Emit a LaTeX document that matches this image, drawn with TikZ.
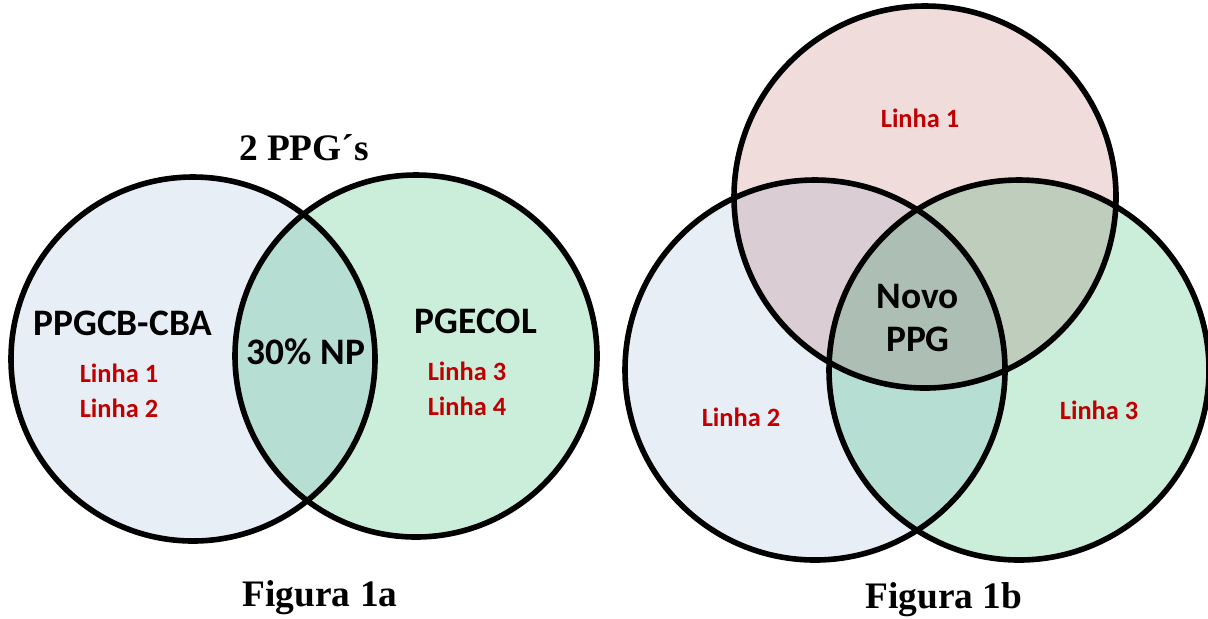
\documentclass[tikz,border=0pt]{standalone}
\usepackage{fontspec}
\setmainfont{Liberation Serif}
\newfontfamily\carlito{Carlito}
\definecolor{LinhaRed}{HTML}{C00000}
\definecolor{SetBlue}{HTML}{E7EEF6}
\definecolor{SetGreen}{HTML}{CBEEDA}
\definecolor{SetPink}{HTML}{F1DCDC}
\usetikzlibrary{positioning}

\begin{document}
\begin{tikzpicture}[
  x=0.5pt, y=-0.5pt,
  ring/.style={draw=black, line width=2.8pt},
  setname/.style={font=\carlito\bfseries\fontsize{18.7}{21.5}\selectfont, align=center},
  linha/.style={font=\carlito\bfseries\fontsize{13.2}{17}\selectfont, text=LinhaRed},
  caption/.style={font=\bfseries\fontsize{18.7}{20}\selectfont}
]
  \useasboundingbox (0,0) rectangle (1208,618);

  % Figura 1a: two sets
  \begin{scope}[blend group=multiply]
    \fill[SetBlue]  (193,359) circle[radius=182];
    \fill[SetGreen] (416,356) circle[radius=181];
  \end{scope}
  \draw[ring] (193,359) circle[radius=182];
  \draw[ring] (416,356) circle[radius=181];

  \node[caption] (ppgs) at (304,148) {2 PPG´s};
  \node[setname] (cba) at (123,323) {PPGCB-CBA};
  \node[setname] (np) at (306,352) {30\% NP};
  \node[setname] (ecol) at (476,321) {PGECOL};
  \node[linha] (a1) at (119,373) {Linha 1};
  \node[linha, below=1pt of a1] (a2) {Linha 2};
  \node[linha] (a3) at (467,371) {Linha 3};
  \node[linha, below=1pt of a3] (a4) {Linha 4};
  \node[caption] (fig1a) at (320,598) {Figura 1a};

  % Figura 1b: three sets
  \begin{scope}[blend group=multiply]
    \fill[SetPink]  (925,197) circle[radius=191];
    \fill[SetBlue]  (815,370) circle[radius=190];
    \fill[SetGreen] (1019,370) circle[radius=190];
  \end{scope}
  \draw[ring] (925,197) circle[radius=191];
  \draw[ring] (815,370) circle[radius=190];
  \draw[ring] (1019,370) circle[radius=190];

  \node[linha] (b1) at (920,118) {Linha 1};
  \node[linha] (b2) at (741,417) {Linha 2};
  \node[linha] (b3) at (1099,410) {Linha 3};
  \node[setname] (novo) at (918,318) {Novo\\PPG};
  \node[caption] (fig1b) at (944,600) {Figura 1b};
\end{tikzpicture}
\end{document}
